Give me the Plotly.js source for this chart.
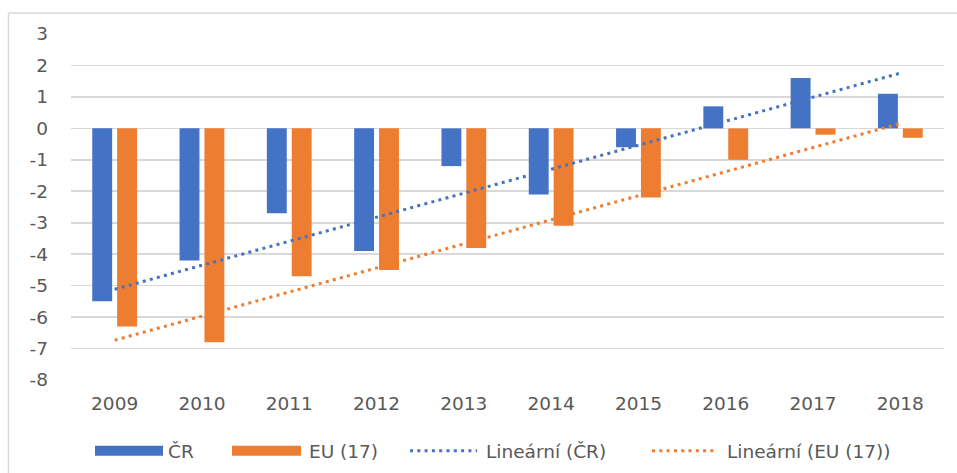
<!DOCTYPE html>
<html>
<head>
<meta charset="utf-8">
<script src="https://cdn.plot.ly/plotly-3.0.1.min.js"></script>
<style>
html,body{margin:0;padding:0;background:#fff;}
#chart{width:957px;height:473px;}
</style>
</head>
<body>
<div id="chart"></div>
<script>
const years = ["2009","2010","2011","2012","2013","2014","2015","2016","2017","2018"];
const cr = [-5.5,-4.2,-2.7,-3.9,-1.2,-2.1,-0.6,0.7,1.6,1.1];
const eu = [-6.3,-6.8,-4.7,-4.5,-3.8,-3.1,-2.2,-1.0,-0.2,-0.3];
const seriesNames = ["ČR","EU (17)","Lineární (ČR)","Lineární (EU (17))"];
const yTicks = [3,2,1,0,-1,-2,-3,-4,-5,-6,-7,-8];
const yTickText = ["3","2","1","0","-1","-2","-3","-4","-5","-6","-7","-8"];

const BLUE = "#4472C4", ORANGE = "#ED7D31", GRID = "#D9D9D9", TXT = "#595959";
const FONT = "DejaVu Sans, Liberation Sans, sans-serif";
const DOT = "3px,4.3px";

// linear least-squares trend (Excel "Lineární" trendline) over category index 1..n
function trend(vals){
  const n = vals.length;
  let sx=0, sy=0, sxx=0, sxy=0;
  vals.forEach((v,i)=>{const x=i+1; sx+=x; sy+=v; sxx+=x*x; sxy+=x*v;});
  const b = (n*sxy - sx*sy)/(n*sxx - sx*sx);
  const a = (sy - b*sx)/n;
  return vals.map((v,i)=>a + b*(i+1));
}

const traces = [
  {type:"bar", x:years, y:cr, name:seriesNames[0], marker:{color:BLUE}},
  {type:"bar", x:years, y:eu, name:seriesNames[1], marker:{color:ORANGE}},
  {type:"scatter", mode:"lines", x:years, y:trend(cr), name:seriesNames[2],
   line:{color:BLUE, dash:DOT, width:3}},
  {type:"scatter", mode:"lines", x:years, y:trend(eu), name:seriesNames[3],
   line:{color:ORANGE, dash:DOT, width:3}}
];

// helper for pixel -> paper coords
const L=71, R=944, T=34, B=380;
const px = v => (v-L)/(R-L);
const py = v => (B-v)/(B-T);

const legY = 450.7;
const shapes = [
  // chart frame (left and top edges visible)
  {type:"line", xref:"paper", yref:"paper", x0:px(8.5), x1:px(8.5), y0:py(13), y1:py(480), line:{color:GRID, width:1.5}},
  {type:"line", xref:"paper", yref:"paper", x0:px(8.5), x1:px(965), y0:py(13), y1:py(13), line:{color:GRID, width:1.5}},
  // legend swatches
  {type:"rect", xref:"paper", yref:"paper", x0:px(95), x1:px(163), y0:py(445.7), y1:py(455.7), fillcolor:BLUE, line:{width:0}},
  {type:"rect", xref:"paper", yref:"paper", x0:px(232), x1:px(301), y0:py(445.7), y1:py(455.7), fillcolor:ORANGE, line:{width:0}},
  {type:"line", xref:"paper", yref:"paper", x0:px(410), x1:px(477), y0:py(legY), y1:py(legY), line:{color:BLUE, width:3, dash:DOT}},
  {type:"line", xref:"paper", yref:"paper", x0:px(652), x1:px(717), y0:py(legY), y1:py(legY), line:{color:ORANGE, width:3, dash:DOT}}
];
const legTextX = [166, 307, 484, 725];
const annotations = seriesNames.map((s,i)=>({
  xref:"paper", yref:"paper", x:px(legTextX[i]), y:py(451.5), xanchor:"left", yanchor:"middle",
  text:s, showarrow:false, font:{family:FONT, size:18.5, color:TXT}
}));

const layout = {
  width:957, height:473,
  margin:{l:L, r:957-R, t:T, b:473-B, pad:0},
  paper_bgcolor:"#fff", plot_bgcolor:"#fff",
  barmode:"group", bargap:0.43, bargroupgap:0.2,
  showlegend:false,
  xaxis:{type:"category", showgrid:false, zeroline:false, showline:false, ticks:"",
         tickfont:{family:FONT, size:18.5, color:TXT}, ticklabelstandoff:10, fixedrange:true},
  yaxis:{range:[-8,3], tickmode:"array", tickvals:yTicks, ticktext:yTickText,
         showgrid:true, gridcolor:GRID, gridwidth:1.6,
         zeroline:false, showline:false, ticks:"",
         tickfont:{family:FONT, size:18.5, color:TXT}, ticklabelstandoff:22, fixedrange:true},
  shapes:shapes, annotations:annotations
};

Plotly.newPlot("chart", traces, layout, {displayModeBar:false, staticPlot:true});
</script>
</body>
</html>
